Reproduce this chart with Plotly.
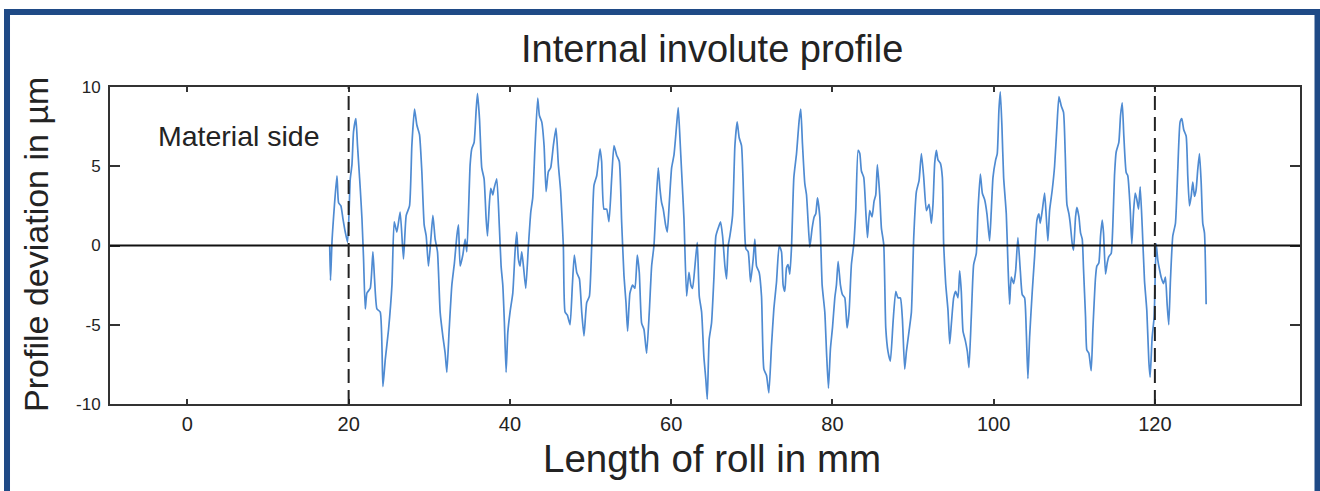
import plotly.graph_objects as go

# Profile trace (x in mm, deviation in µm)
x_mm = [
    17.65, 17.75, 17.95, 18.55, 18.75, 19.04, 19.29, 19.58, 19.87, 20.2, 20.41, 20.61, 20.9, 21.1, 21.44,
    21.65, 21.85, 22.06, 22.27, 22.68, 23.01, 23.21, 23.51, 23.92, 24.25, 24.54, 24.95, 25.37, 25.65, 25.98,
    26.39, 26.8, 27.14, 27.55, 27.84, 28.17, 28.46, 28.79, 29.08, 29.37, 29.62, 29.9, 30.2, 30.45, 30.73,
    31.02, 31.35, 31.68, 31.97, 32.18, 32.47, 32.8, 33.12, 33.42, 33.62, 33.83, 34.16, 34.45, 34.66, 35.07,
    35.27, 35.56, 35.81, 35.98, 36.23, 36.51, 36.8, 37.05, 37.22, 37.46, 37.63, 37.88, 38.04, 38.37, 38.7,
    38.91, 39.12, 39.32, 39.53, 39.74, 40.02, 40.36, 40.64, 40.85, 41.05, 41.26, 41.47, 41.68, 41.97, 42.3,
    42.59, 42.83, 43.12, 43.45, 43.66, 43.95, 44.24, 44.49, 44.77, 45.06, 45.39, 45.72, 46.01, 46.3, 46.63,
    46.84, 47.13, 47.46, 47.75, 47.99, 48.29, 48.62, 48.91, 49.19, 49.53, 49.86, 50.15, 50.43, 50.77, 51.18,
    51.38, 51.67, 52.0, 52.29, 52.62, 52.91, 53.24, 53.57, 53.86, 54.15, 54.4, 54.6,
    54.89, 55.22, 55.51, 55.8, 56.05, 56.34, 56.63, 56.96, 57.29, 57.58, 57.87, 58.12, 58.4, 58.61, 58.82,
    59.02, 59.31, 59.52, 59.77, 60.06, 60.35, 60.68, 60.88, 61.09, 61.3, 61.59, 61.92, 62.21, 62.45, 62.66,
    62.95, 63.24, 63.49, 63.78, 64.06, 64.31, 64.48, 64.72, 65.01, 65.3, 65.55, 65.84, 66.13, 66.38, 66.67,
    66.87, 67.08, 67.29, 67.62, 67.91, 68.19, 68.44, 68.73, 69.02, 69.27, 69.56, 69.85, 70.18, 70.38, 70.59,
    70.92, 71.21, 71.5, 71.83, 72.12, 72.45, 72.74, 73.07, 73.4,
    73.69, 73.89, 74.1, 74.31, 74.51, 74.72, 74.93, 75.22, 75.55, 75.88, 76.08, 76.29, 76.58, 76.79, 76.99,
    77.2, 77.49, 77.74, 77.94, 78.15, 78.44, 78.73, 79.06, 79.27, 79.51, 79.76, 80.01, 80.3, 80.5, 80.71,
    81.0, 81.25, 81.54, 81.82, 82.07, 82.36, 82.65, 82.9, 83.19, 83.4, 83.6, 83.89, 84.14, 84.35, 84.63,
    84.92, 85.17, 85.38, 85.58, 85.87, 86.08, 86.37, 86.62, 86.9, 87.19, 87.53, 87.86, 88.14, 88.43, 88.68,
    88.97, 89.18, 89.51, 89.8, 90.09, 90.42, 90.75, 91.04, 91.33, 91.66, 91.99,
    92.28, 92.48, 92.69, 92.9, 93.1, 93.39, 93.64, 93.8, 94.05, 94.34, 94.55, 94.75, 95.04, 95.29, 95.58,
    95.79, 95.99, 96.2, 96.49, 96.74, 96.94, 97.23, 97.52, 97.85, 98.06, 98.35, 98.6, 98.88, 99.17, 99.5,
    99.71, 99.92, 100.25, 100.45, 100.66, 100.83, 101.03, 101.24, 101.57, 101.78, 101.98, 102.19, 102.48,
    102.73, 103.01, 103.31, 103.55, 103.84, 104.05, 104.25, 104.46, 104.79, 105.08, 105.37, 105.62, 105.78,
    106.03, 106.32, 106.53, 106.73, 106.94, 107.27, 107.56, 107.85, 108.1, 108.39, 108.67, 108.88, 109.09,
    109.34, 109.5, 109.75, 109.91, 110.16, 110.33, 110.58,
    110.78, 110.99, 111.15, 111.4, 111.56, 111.81, 112.1, 112.31, 112.64, 112.8, 113.05, 113.26, 113.47,
    113.63, 113.88, 114.09, 114.29, 114.58, 114.78, 114.99, 115.2, 115.53, 115.74, 115.95, 116.15, 116.44,
    116.64, 116.94, 117.14, 117.35, 117.56, 117.76, 117.97, 118.18, 118.43, 118.71, 119.0, 119.25, 119.41,
    119.66, 119.91, 120.16, 120.36, 120.57, 120.78, 121.07, 121.31, 121.52, 121.72, 121.93, 122.22, 122.55,
    122.84, 123.13, 123.34, 123.58, 123.88, 124.08, 124.29, 124.5, 124.7, 124.91, 125.11, 125.32, 125.53,
    125.74, 125.94, 126.15, 126.36,
]

dev_um = [
    0.0, -2.2, 0.4, 4.4, 2.7, 2.5, 1.7, 0.85, 0.2, 4.2, 5.1, 7.2, 8.0, 6.3, 3.6,
    1.7, -0.85, -4.0, -3.0, -2.7, -0.4, -2.1, -4.0, -4.2, -8.9, -7.2, -5.3, -2.5, 1.5, 0.85,
    2.1, -0.85, 1.9, 2.5, 6.3, 8.6, 7.6, 7.0, 4.65, 1.3, 0.6, -1.3, 0.4, 1.9, 0.4,
    -0.4, -4.2, -5.7, -6.8, -8.0, -5.3, -2.5, -1.1, 0.6, 1.3, -1.3, -0.6, 0.4, -0.4, 5.1,
    6.1, 6.5, 8.5, 9.6, 8.0, 4.9, 4.2, 1.7, 0.6, 2.7, 3.6, 3.2, 3.6, 4.2, 1.1,
    -1.3, -2.5, -4.9, -8.0, -5.5, -4.2, -3.0, -0.4, 0.85, -0.85, -1.3, -0.4, -1.3, -2.7, 0.0,
    2.1, 3.0, 6.3, 9.3, 8.2, 7.8, 6.3, 3.4, 4.65, 4.9, 6.3, 7.4, 5.1, 3.4, 0.0,
    -4.2, -4.4, -5.0, -2.5, -0.6, -1.7, -2.1, -4.2, -5.7, -3.6, -3.2, 0.0, 3.8, 4.4, 6.1,
    5.3, 2.3, 2.3, 1.5, 4.2, 6.3, 5.7, 5.3, 1.5, -1.9, -3.6, -5.4,
    -3.0, -2.5, -2.7, -0.6, -1.7, -4.9, -5.3, -6.8, -4.2, -1.3, 0.0, 2.5, 4.9, 3.6, 2.7,
    2.3, 1.3, 0.85, 2.7, 4.9, 5.7, 7.6, 8.7, 6.8, 4.65, 1.7, -3.2, -1.7, -2.5, -2.7,
    -1.3, 0.2, -3.2, -4.2, -7.0, -8.5, -9.7, -5.9, -4.9, -2.1, 0.6, 1.1, 1.5, 0.6, -1.3,
    -2.1, 0.0, 0.6, 1.9, 6.3, 7.8, 6.8, 6.3, 2.5, -0.2, -0.4, -2.3, -0.85, 0.4, -1.3,
    -1.7, -3.2, -7.8, -8.2, -9.3, -6.3, -4.0, -2.3, 0.0,
    -0.4, -2.5, -2.9, -1.4, -1.2, -1.8, -0.1, 4.3, 5.8, 7.9, 8.6, 6.4, 3.9, 3.2, 1.5,
    -0.1, 1.1, 1.8, 2.0, 3.0, 1.8, -2.5, -4.2, -6.7, -9.0, -6.5, -5.2, -3.3, -2.5, -1.0,
    -2.5, -3.1, -3.3, -5.2, -4.2, -1.2, 0.06, 2.2, 6.0, 5.8, 4.7, 4.3, 2.2, 0.5, 2.2,
    1.8, 2.8, 3.2, 5.1, 3.2, 1.1, 0.06, -5.2, -6.7, -7.3, -4.8, -2.9, -3.3, -3.3, -4.6,
    -7.8, -6.7, -5.4, -4.2, 0.5, 3.4, 4.1, 5.8, 4.3, 2.2, 2.6,
    1.4, 2.6, 5.2, 6.0, 5.4, 5.2, 4.3, 0.1, -2.4, -4.1, -6.2, -5.0, -3.3, -2.9, -3.3,
    -1.6, -2.9, -5.4, -6.0, -6.7, -7.7, -4.5, -1.2, -0.5, 2.2, 4.5, 3.3, 2.9, 2.0, 0.3,
    2.2, 4.3, 5.4, 5.8, 8.6, 9.7, 7.5, 4.3, 2.0, -1.2, -3.7, -2.0, -2.4,
    -1.6, 0.5, -1.6, -3.1, -3.3, -5.4, -8.4, -5.8, -2.9, -0.7, 1.6, 2.0, 1.4,
    2.2, 3.3, 1.8, 0.3, 2.2, 3.5, 5.0, 7.5, 9.4, 8.8, 8.4, 5.8, 2.6,
    2.0, 1.4, 0.1, -0.3, 1.8, 2.4, 1.8,
    0.8, 0.4, -1.5, -4.5, -6.6, -6.8, -7.9, -5.3, -2.0, -1.3, -1.1, 0.6, 1.6,
    0.8, -1.8, -1.1, -0.7, -0.5, 1.2, 4.4, 5.9, 6.5, 8.2, 9.0, 6.9, 4.6,
    4.4, 2.3, 0.1, 2.1, 3.3, 2.9, 2.3, 3.7, 1.2, -2.2, -4.1, -7.3, -8.3,
    -5.8, -4.5, 0.1, -0.9, -1.5, -2.0, -2.4, -2.0, -3.7, -5.0, -2.2, 0.6, 1.4,
    4.8, 7.8, 8.0, 7.3, 6.9, 4.4, 2.5, 3.1, 4.0, 3.1, 3.5, 4.8, 5.8,
    4.0, 1.4, 0.8, -3.7,
]

x_ticks = [0, 20, 40, 60, 80, 100, 120]
y_ticks = [-10, -5, 0, 5, 10]
boundary_x = [20, 120]

title_text = "Internal involute profile"
x_title = "Length of roll in mm"
y_title = "Profile deviation in µm"
note_text = "Material side"

FONT = "Liberation Sans, Arial, Helvetica, sans-serif"
INK = "#232323"
FRAME = "#1f4a86"

fig = go.Figure()
fig.add_trace(go.Scatter(
    x=x_mm, y=dev_um, mode="lines",
    line=dict(color="#4f8bd2", width=1.7, shape="spline", smoothing=0.5),
    showlegend=False, hoverinfo="x+y",
))

shapes = []
# horizontal zero line
shapes.append(dict(type="line", xref="x", yref="y", x0=-9.6, x1=138.0, y0=0, y1=0,
                   line=dict(color="#111111", width=2), layer="above"))
# dashed boundary lines
for bx in boundary_x:
    shapes.append(dict(type="line", xref="x", yref="y", x0=bx, x1=bx, y0=-10, y1=10,
                       line=dict(color="#222222", width=2, dash="14px,7px"), layer="above"))
# blue frame around the figure (open at bottom)
shapes.append(dict(type="path", xref="paper", yref="paper",
                   path="M -0.08655,-0.30 L -0.08655,1.23659 L 1.01471,1.23659 L 1.01471,-0.30",
                   line=dict(color=FRAME, width=6)))

annotations = [
    dict(text=title_text, xref="paper", yref="paper", x=0.506, y=1.1199,
         xanchor="center", yanchor="middle", showarrow=False,
         font=dict(family=FONT, size=38, color=INK)),
    dict(text=x_title, xref="paper", yref="paper", x=0.506, y=-0.1735,
         xanchor="center", yanchor="middle", showarrow=False,
         font=dict(family=FONT, size=38.5, color=INK)),
    dict(text=y_title, xref="paper", yref="paper", x=-0.0622, y=0.505,
         xanchor="center", yanchor="middle", showarrow=False, textangle=-90,
         font=dict(family=FONT, size=34, color=INK)),
    dict(text=note_text, xref="x", yref="y", x=6.4, y=6.9,
         xanchor="center", yanchor="middle", showarrow=False,
         font=dict(family=FONT, size=28.5, color=INK)),
]

fig.update_layout(
    width=1320, height=491,
    margin=dict(l=110, r=20, t=87, b=87),
    paper_bgcolor="white", plot_bgcolor="white",
    shapes=shapes, annotations=annotations,
    font=dict(family=FONT, color=INK),
    xaxis=dict(range=[-9.6, 138.0], tickvals=x_ticks, ticktext=[str(v) for v in x_ticks],
               ticks="inside", ticklen=5, tickwidth=2, tickcolor="#333",
               showline=True, linecolor="#333", linewidth=2, mirror="ticks",
               showgrid=False, zeroline=False, ticklabelstandoff=1,
               tickfont=dict(family=FONT, size=20, color=INK)),
    yaxis=dict(range=[-10, 10], tickvals=y_ticks, ticktext=[str(v) for v in y_ticks],
               ticks="inside", ticklen=10, tickwidth=1.5, tickcolor="#333",
               showline=True, linecolor="#333", linewidth=2, mirror="ticks",
               showgrid=False, zeroline=False, ticklabelstandoff=4,
               tickfont=dict(family=FONT, size=17, color=INK)),
)

fig.write_html(
    "out.html",
    config={"displayModeBar": False},
    post_script="document.body.style.margin='0';document.body.style.padding='0';"
                "document.documentElement.style.overflow='hidden';",
)
